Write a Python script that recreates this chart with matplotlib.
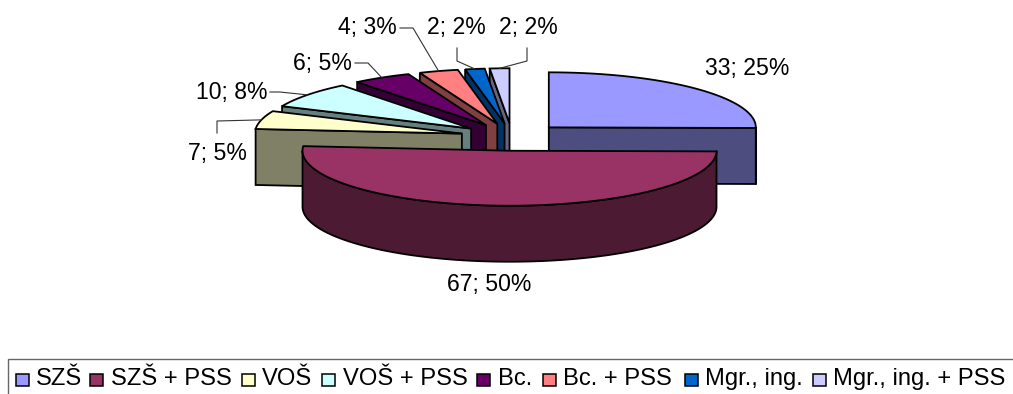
import numpy as np
import matplotlib
matplotlib.use('Agg')
import matplotlib.pyplot as plt
from matplotlib.patches import Polygon, Rectangle

plt.rcParams['font.family'] = ['Liberation Sans', 'DejaVu Sans']

categories = ['SZŠ', 'SZŠ + PSS', 'VOŠ', 'VOŠ + PSS', 'Bc.', 'Bc. + PSS', 'Mgr., ing.', 'Mgr., ing. + PSS']
counts = [33, 67, 7, 10, 6, 4, 2, 2]
percents = [25, 50, 5, 8, 5, 3, 2, 2]

top_colors = ['#9999FF', '#993366', '#FFFFCC', '#CCFFFF', '#660066', '#FF8080', '#0066CC', '#CCCCFF']
side_colors = ['#4D4D80', '#4D1A33', '#808066', '#668080', '#330033', '#804040', '#003366', '#666680']

'~~~~~ pie geometry, in pixels ~~~~~'
cx, cy = 512, 137
rx, ry = 207, 55
depth = 56
explode = 0.25

# label centre and the knee of the leader line (None = no leader)
label_pos = [(747, 68), (489, 284), (217, 153), (232, 92), (322, 63), (367, 27), (456, 27), (528, 27)]
leader_knee = [None, None, (217, 121), (280, 92), (368, 63), (413, 28), (457, 61), (527, 61)]
leader_start = [None, None, (217, 133), (270, 92), (355, 63), (400, 28), (457, 48), (527, 48)]

# legend x positions: swatch left edge, text left edge
legend_swatch_x = [16, 90, 242, 322, 477, 543, 685, 813]
legend_text_x = [36, 111, 262, 343, 498, 563, 705, 833]

FONT = 16.6
LEGEND_FONT = 17.1
EDGE = 1.3

fig = plt.figure(figsize=(10.13, 3.94), dpi=100)
ax = fig.add_axes([0, 0, 1, 1])
ax.set_xlim(0, 1013)
ax.set_ylim(394, 0)
ax.axis('off')


def rim(x0, y0, t):
    # angle t runs clockwise from twelve o'clock
    return x0 + rx * np.sin(t), y0 - ry * np.cos(t)


def draw_slice(x0, y0, t0, t1, top, side):
    # outer wall, only the part facing the viewer
    a, b = max(t0, np.pi / 2), min(t1, 3 * np.pi / 2)
    if b > a:
        t = np.linspace(a, b, 120)
        xs, ys = rim(x0, y0, t)
        pts = np.r_[np.c_[xs, ys], np.c_[xs, ys + depth][::-1]]
        ax.add_patch(Polygon(pts, fc=side, ec='black', lw=EDGE, joinstyle='round'))
    # cut faces
    for ang, show in ((t0, np.pi < t0 < 2 * np.pi), (t1, 0 < t1 < np.pi)):
        if show:
            px, py = rim(x0, y0, ang)
            pts = [(x0, y0), (px, py), (px, py + depth), (x0, y0 + depth)]
            ax.add_patch(Polygon(pts, fc=side, ec='black', lw=EDGE, joinstyle='miter'))
    # top face
    t = np.linspace(t0, t1, 120)
    xs, ys = rim(x0, y0, t)
    pts = np.r_[[(x0, y0)], np.c_[xs, ys]]
    ax.add_patch(Polygon(pts, fc=top, ec='black', lw=EDGE, joinstyle='miter'))


edges = np.r_[0, np.cumsum(counts)] / np.sum(counts) * 2 * np.pi
mids = (edges[:-1] + edges[1:]) / 2
apex_x = cx + explode * rx * np.sin(mids)
apex_y = cy - explode * ry * np.cos(mids)

# back slices first, going anticlockwise, then the two big front ones
order = [7, 6, 5, 4, 3, 2, 0, 1]
for i in order:
    draw_slice(apex_x[i], apex_y[i], edges[i], edges[i + 1], top_colors[i], side_colors[i])

for i in range(len(counts)):
    ax.text(label_pos[i][0], label_pos[i][1], f'{counts[i]}; {percents[i]}%',
            fontsize=FONT, ha='center', va='center', color='black')
    if leader_knee[i] is not None:
        ex, ey = rim(apex_x[i], apex_y[i], mids[i])
        ax.plot([leader_start[i][0], leader_knee[i][0], ex],
                [leader_start[i][1], leader_knee[i][1], ey],
                color='#333333', lw=0.8, zorder=5)

'~~~~~ legend ~~~~~'
ax.add_patch(Rectangle((7.5, 359), 1010, 40, fc='white', ec='#666666', lw=1.0, clip_on=True))
for i in range(len(categories)):
    ax.add_patch(Rectangle((legend_swatch_x[i], 373.5), 12.5, 12.5, fc=top_colors[i], ec='black', lw=1.1))
    ax.text(legend_text_x[i], 385, categories[i], fontsize=LEGEND_FONT, ha='left', va='baseline', color='black')

fig.savefig('out.png', dpi=100)
